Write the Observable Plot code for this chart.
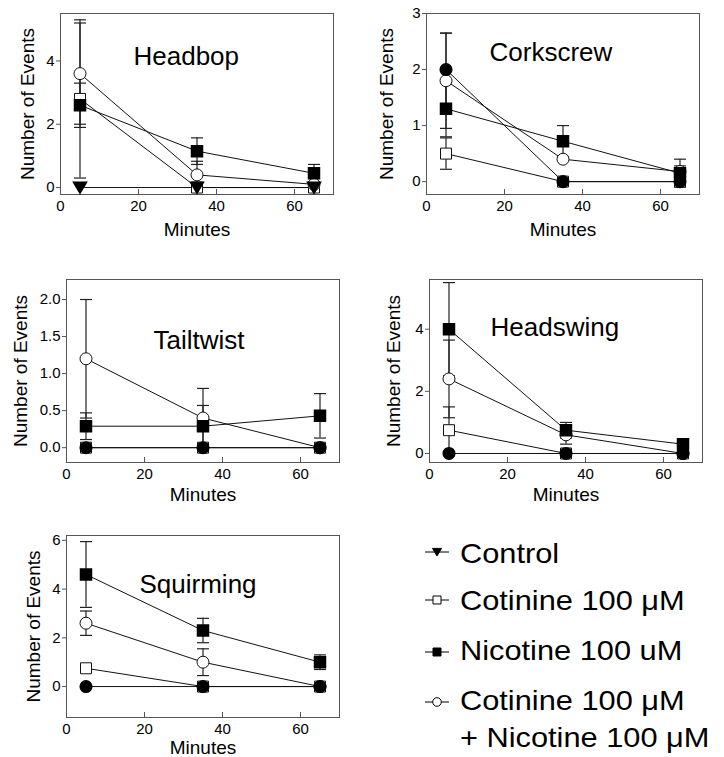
<!DOCTYPE html>
<html>
<head>
<meta charset="utf-8">
<script src="https://cdn.jsdelivr.net/npm/d3@7"></script>
<script src="https://cdn.jsdelivr.net/npm/@observablehq/plot@0.6"></script>
<style>
  html, body { margin: 0; padding: 0; background: white; }
  #chart { position: relative; width: 724px; height: 757px; overflow: hidden; font-family: "Liberation Sans", Arial, sans-serif; }
  .box { position: absolute; }
</style>
</head>
<body>
<div id="chart"></div>
<script>
// ---------- data ----------
const minutes = [5, 35, 65];
const groups = ["Control", "Cotinine 100 μM", "Nicotine 100 uM", "Cotinine 100 μM + Nicotine 100 μM"];
const xTicks = [0, 20, 40, 60];

// rows: Control, Cotinine, Nicotine, Cotinine + Nicotine
const headbopMean = [[0, 0, 0], [2.8, 0, 0], [2.6, 1.15, 0.45], [3.6, 0.4, 0.1]];
const headbopErr  = [[0, 0, 0], [2.5, 0, 0], [0.7, 0.42, 0.28], [1.6, 0.43, 0]];
const headbopTicks = [0, 2, 4];

const corkscrewMean = [[2.0, 0, 0], [0.5, 0, 0], [1.3, 0.72, 0.15], [1.8, 0.4, 0.18]];
const corkscrewErr  = [[0.65, 0, 0], [0.28, 0, 0], [0.5, 0.28, 0.25], [0.85, 0, 0.1]];
const corkscrewTicks = [0, 1, 2, 3];

const tailtwistMean = [[0, 0, 0], [0, 0, 0], [0.29, 0.29, 0.43], [1.2, 0.4, 0]];
const tailtwistErr  = [[0, 0, 0], [0, 0, 0], [0.18, 0.28, 0.3], [0.8, 0.4, 0]];
const tailtwistTicks = [0, 0.5, 1, 1.5, 2];

const headswingMean = [[0, 0, 0], [0.75, 0, 0], [4.0, 0.75, 0.3], [2.4, 0.6, 0]];
const headswingErr  = [[0, 0, 0], [0.75, 0, 0], [1.5, 0.25, 0], [1.25, 0.3, 0]];
const headswingTicks = [0, 2, 4];

const squirmingMean = [[0, 0, 0], [0.75, 0, 0], [4.6, 2.3, 1.0], [2.6, 1.0, 0]];
const squirmingErr  = [[0, 0, 0], [0, 0, 0], [1.35, 0.5, 0.3], [0.5, 0.55, 0]];
const squirmingTicks = [0, 2, 4, 6];

// ---------- symbols ----------
const capSym = { draw(ctx) { ctx.moveTo(-6, 0); ctx.lineTo(6, 0); } };
const triDown = { draw(ctx, size) { const r = Math.sqrt(size / Math.PI); ctx.moveTo(-r, -r * 0.8); ctx.lineTo(r, -r * 0.8); ctx.lineTo(0, r * 0.9); ctx.closePath(); } };

const chart = document.getElementById("chart");
const FONT = '"Liberation Sans", Arial, sans-serif';

function panel(cfg) {
  const rows = groups.flatMap((g, i) => minutes.map((t, j) => ({ group: g, key: i, t, mean: cfg.mean[i][j], err: cfg.err[i][j] })));
  const errRows = rows.filter(d => d.err > 0);
  const sel = k => rows.filter(d => d.key === k);
  const plot = Plot.plot({
    width: cfg.width, height: cfg.height,
    marginLeft: cfg.m[0], marginRight: cfg.m[1], marginTop: cfg.m[2], marginBottom: cfg.m[3],
    x: { domain: [0, 70] },
    y: { domain: cfg.yDomain },
    style: { fontFamily: FONT, fontSize: "15px", color: "black", background: "white", overflow: "visible" },
    marks: [
      Plot.frame({ stroke: "#555", strokeWidth: 1 }),
      Plot.axisY({ ticks: cfg.ticks, tickSize: 4, tickPadding: 2, tickFormat: cfg.fmt || (d => d), fontSize: 15, label: null, stroke: "#555" }),
      Plot.axisX({ ticks: xTicks, tickSize: -5, tickPadding: 11, fontSize: 15, label: null, stroke: "#555" }),
      Plot.text(["Number of Events"], { text: d => d, frameAnchor: "left", rotate: -90, dx: cfg.yLabelDx, textAnchor: "middle", lineAnchor: "middle", fontSize: 19, fill: "black" }),
      Plot.text(["Minutes"], { text: d => d, frameAnchor: "bottom", dy: cfg.xLabelDy, textAnchor: "middle", lineAnchor: "middle", fontSize: 19, fill: "black" }),
      Plot.text([cfg.title], { text: d => d, frameAnchor: "top-left", dx: cfg.titlePos[0], dy: cfg.titlePos[1], textAnchor: "start", lineAnchor: "bottom", fontSize: 26, fill: "black" }),
      Plot.line(rows, { x: "t", y: "mean", z: "group", stroke: "#111", strokeWidth: 1 }),
      Plot.ruleX(errRows, { x: "t", y1: d => d.mean - d.err, y2: d => d.mean + d.err, stroke: "#222", strokeWidth: 1.2 }),
      Plot.dot(errRows, { x: "t", y: d => d.mean - d.err, symbol: capSym, stroke: "#222", fill: "none", strokeWidth: 1.2 }),
      Plot.dot(errRows, { x: "t", y: d => d.mean + d.err, symbol: capSym, stroke: "#222", fill: "none", strokeWidth: 1.2 }),
      Plot.dot(sel(1), { x: "t", y: "mean", symbol: "square", r: 6.2, fill: "white", stroke: "#111", strokeWidth: 1 }),
      Plot.dot(sel(3), { x: "t", y: "mean", symbol: "circle", r: 6, fill: "white", stroke: "#111", strokeWidth: 1 }),
      Plot.dot(sel(2), { x: "t", y: "mean", symbol: "square", r: 6.2, fill: "black", stroke: "black" }),
      Plot.dot(sel(0), { x: "t", y: "mean", symbol: cfg.triangle ? triDown : "circle", r: cfg.triangle ? 6.5 : 5.8, fill: "black", stroke: "black" })
    ]
  });
  const box = document.createElement("div");
  box.className = "box";
  box.style.left = cfg.left + "px";
  box.style.top = cfg.top + "px";
  box.appendChild(plot);
  chart.appendChild(box);
}

panel({ title: "Headbop", mean: headbopMean, err: headbopErr, ticks: headbopTicks, yDomain: [-0.22, 5.5], triangle: true,
  left: 0, top: 0, width: 345, height: 256, m: [60, 12, 13, 62], yLabelDx: -33, xLabelDy: 35, titlePos: [73, 51] });
panel({ title: "Corkscrew", mean: corkscrewMean, err: corkscrewErr, ticks: corkscrewTicks, yDomain: [-0.23, 3],
  left: 362, top: 0, width: 362, height: 256, m: [64, 25, 13, 62], yLabelDx: -40, xLabelDy: 35, titlePos: [63, 47] });
panel({ title: "Tailtwist", mean: tailtwistMean, err: tailtwistErr, ticks: tailtwistTicks, yDomain: [-0.2, 2.27], fmt: d3.format(".1f"),
  left: 0, top: 256, width: 350, height: 260, m: [66, 11, 23, 54], yLabelDx: -46, xLabelDy: 32, titlePos: [87, 69] });
panel({ title: "Headswing", mean: headswingMean, err: headswingErr, ticks: headswingTicks, yDomain: [-0.29, 5.6],
  left: 362, top: 256, width: 362, height: 260, m: [67, 22, 23, 54], yLabelDx: -36, xLabelDy: 32, titlePos: [61, 56] });
panel({ title: "Squirming", mean: squirmingMean, err: squirmingErr, ticks: squirmingTicks, yDomain: [-1.27, 6.2],
  left: 0, top: 516, width: 350, height: 241, m: [66, 11, 19, 40], yLabelDx: -33, xLabelDy: 30, titlePos: [73, 57] });

// ---------- legend ----------
const legendLabels = ["Control", "Cotinine 100 μM", "Nicotine 100 uM", "Cotinine 100 μM", "+ Nicotine 100 μM"];
const legendMarkers = [
  { sym: triDown, fill: "black", size: 4.5 },
  { sym: d3.symbolSquare, fill: "white", size: 4.5 },
  { sym: d3.symbolSquare, fill: "black", size: 4.5 },
  { sym: d3.symbolCircle, fill: "white", size: 4.3 }
];
const lg = d3.create("svg").attr("width", 324).attr("height", 237)
  .style("position", "absolute").style("left", "400px").style("top", "520px").style("font-family", FONT);
const rowY = [32, 80, 132, 182];
const textY = [43, 90, 140, 190, 227];
legendMarkers.forEach((m, i) => {
  const g = lg.append("g").attr("transform", `translate(37,${rowY[i]})`);
  g.append("line").attr("x1", -12).attr("x2", 12).attr("stroke", "black").attr("stroke-width", 1);
  g.append("path").attr("d", d3.symbol(m.sym, m.size * m.size * Math.PI)()).attr("fill", m.fill).attr("stroke", "black").attr("stroke-width", 1);
});
legendLabels.forEach((t, i) => {
  lg.append("text").attr("transform", `translate(60,${textY[i]}) scale(1.14,1)`).attr("font-size", 27).attr("fill", "black").text(t);
});
chart.appendChild(lg.node());
</script>
</body>
</html>
